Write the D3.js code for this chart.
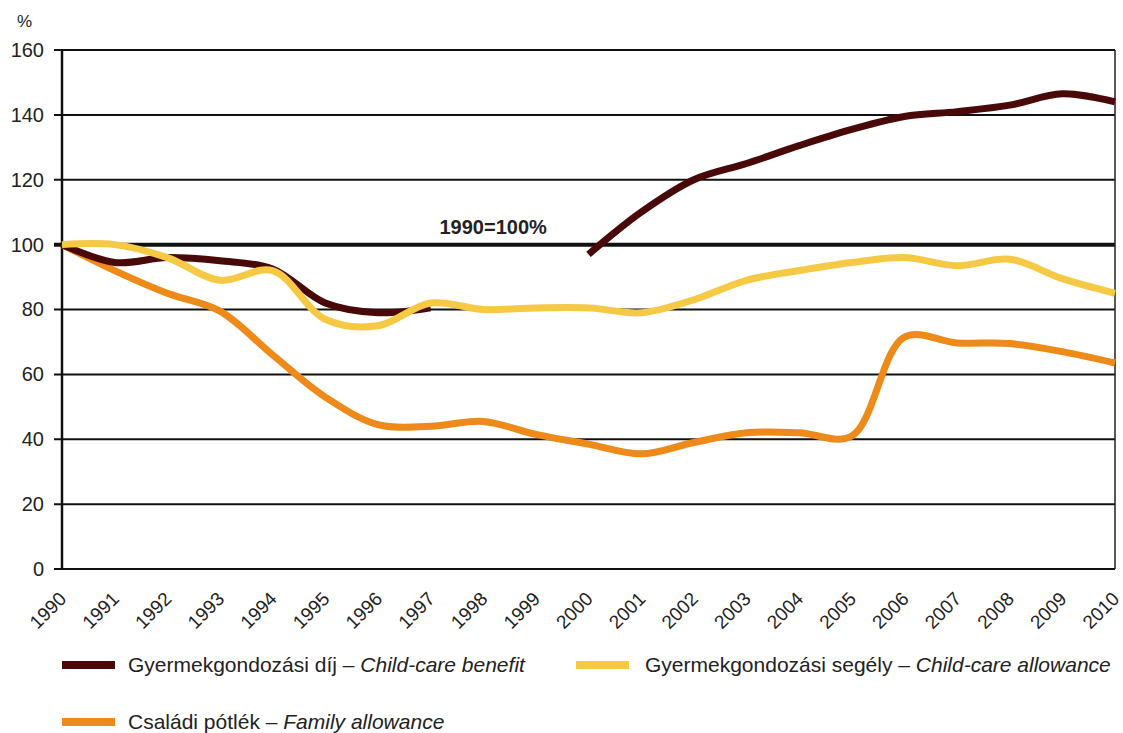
<!DOCTYPE html>
<html><head><meta charset="utf-8">
<script src="https://cdn.jsdelivr.net/npm/d3@7"></script>
<style>body{margin:0;background:#fff}svg{display:block}text{font-family:"Liberation Sans",Arial,sans-serif}</style>
</head><body>
<svg id="c" width="1123" height="733"></svg>
<script>
const years = [1990,1991,1992,1993,1994,1995,1996,1997,1998,1999,2000,2001,2002,2003,2004,2005,2006,2007,2008,2009,2010];
const childCareBenefit = [100,94.5,96,95,92.5,82,79,80.5,null,null,97,110,120,125,130.5,135.5,139.5,141,143,146.5,144];
const childCareAllowance = [100,100,96,89,92,77,75,82,80,80.5,80.5,79,83,89,92,94.5,96,93.5,95.5,89.5,85];
const familyAllowance = [100,92,85,79.5,66,53,44.5,44,45.5,41.5,38.5,35.5,39,42,42,41,71.5,69.7,69.5,67,63.5];
const yTicks = [0,20,40,60,80,100,120,140,160];
const seriesNames = [
  ["Gyermekgondozási díj – ","Child-care benefit"],
  ["Gyermekgondozási segély – ","Child-care allowance"],
  ["Családi pótlék – ","Family allowance"]
];
const colors = ["#4a0909","#f6c945","#ee8a1a"];

const svg = d3.select("#c");
const L=62,R=1115,T=50,B=569;
const x = d3.scaleLinear().domain([1990,2010]).range([L,R]);
const y = d3.scaleLinear().domain([0,160]).range([B,T]);

// gridlines
svg.append("g").selectAll("line").data(yTicks).join("line")
  .attr("x1",L-8).attr("x2",R).attr("y1",d=>y(d)).attr("y2",d=>y(d))
  .attr("stroke","#111").attr("stroke-width",d=>d===100?4:2);
// axes lines
svg.append("line").attr("x1",L).attr("x2",L).attr("y1",T).attr("y2",B).attr("stroke","#111").attr("stroke-width",2.5);
svg.append("line").attr("x1",R).attr("x2",R).attr("y1",T).attr("y2",B).attr("stroke","#222").attr("stroke-width",1.5);

// y axis labels
const ya = svg.append("g").attr("transform",`translate(${L-8},0)`)
  .call(d3.axisLeft(y).tickValues(yTicks).tickSize(0).tickPadding(10));
ya.select(".domain").remove();
ya.selectAll("text").attr("font-size",20).attr("fill","#222").attr("font-family","Liberation Sans, Arial, sans-serif");
svg.append("text").attr("x",17).attr("y",27).attr("font-size",17).attr("fill","#222").text("%");

// x axis labels
const xa = svg.append("g").attr("transform",`translate(0,${B})`)
  .call(d3.axisBottom(x).tickValues(years).tickFormat(d3.format("d")).tickSize(0));
xa.select(".domain").remove();
xa.selectAll("text").attr("font-size",19).attr("fill","#222").attr("font-family","Liberation Sans, Arial, sans-serif")
  .attr("text-anchor","end").attr("dy",null).attr("dominant-baseline",null)
  .attr("transform","translate(5,31) rotate(-45)").attr("y",0).attr("x",0);

// 1990=100% label
svg.append("text").attr("x",x(1997.17)).attr("y",y(103.3)).attr("font-size",20).attr("font-weight","bold").attr("fill","#222").text("1990=100%");

// lines
const line = d3.line().defined(d=>d[1]!=null).x(d=>x(d[0])).y(d=>y(d[1])).curve(d3.curveCatmullRom.alpha(0.5));
const drawOrder = [2,0,1];
const allSeries = [childCareBenefit, childCareAllowance, familyAllowance];
drawOrder.forEach(i=>{
  svg.append("path").datum(years.map((yr,j)=>[yr,allSeries[i][j]]))
    .attr("d",line).attr("fill","none").attr("stroke",colors[i]).attr("stroke-width",7)
    .attr("stroke-linejoin","round");
});

// legend
const leg = [[62,665,0],[576,665,1],[62,722,2]];
leg.forEach(([lx,ly,i])=>{
  svg.append("rect").attr("x",lx).attr("y",ly-4).attr("width",53).attr("height",8).attr("fill",colors[i]);
  const t = svg.append("text").attr("x",lx+(i===1?69:66)).attr("y",ly+7).attr("font-size",21).attr("fill","#222");
  t.append("tspan").text(seriesNames[i][0]);
  t.append("tspan").attr("font-style","italic").text(seriesNames[i][1]);
});
</script>
</body></html>
